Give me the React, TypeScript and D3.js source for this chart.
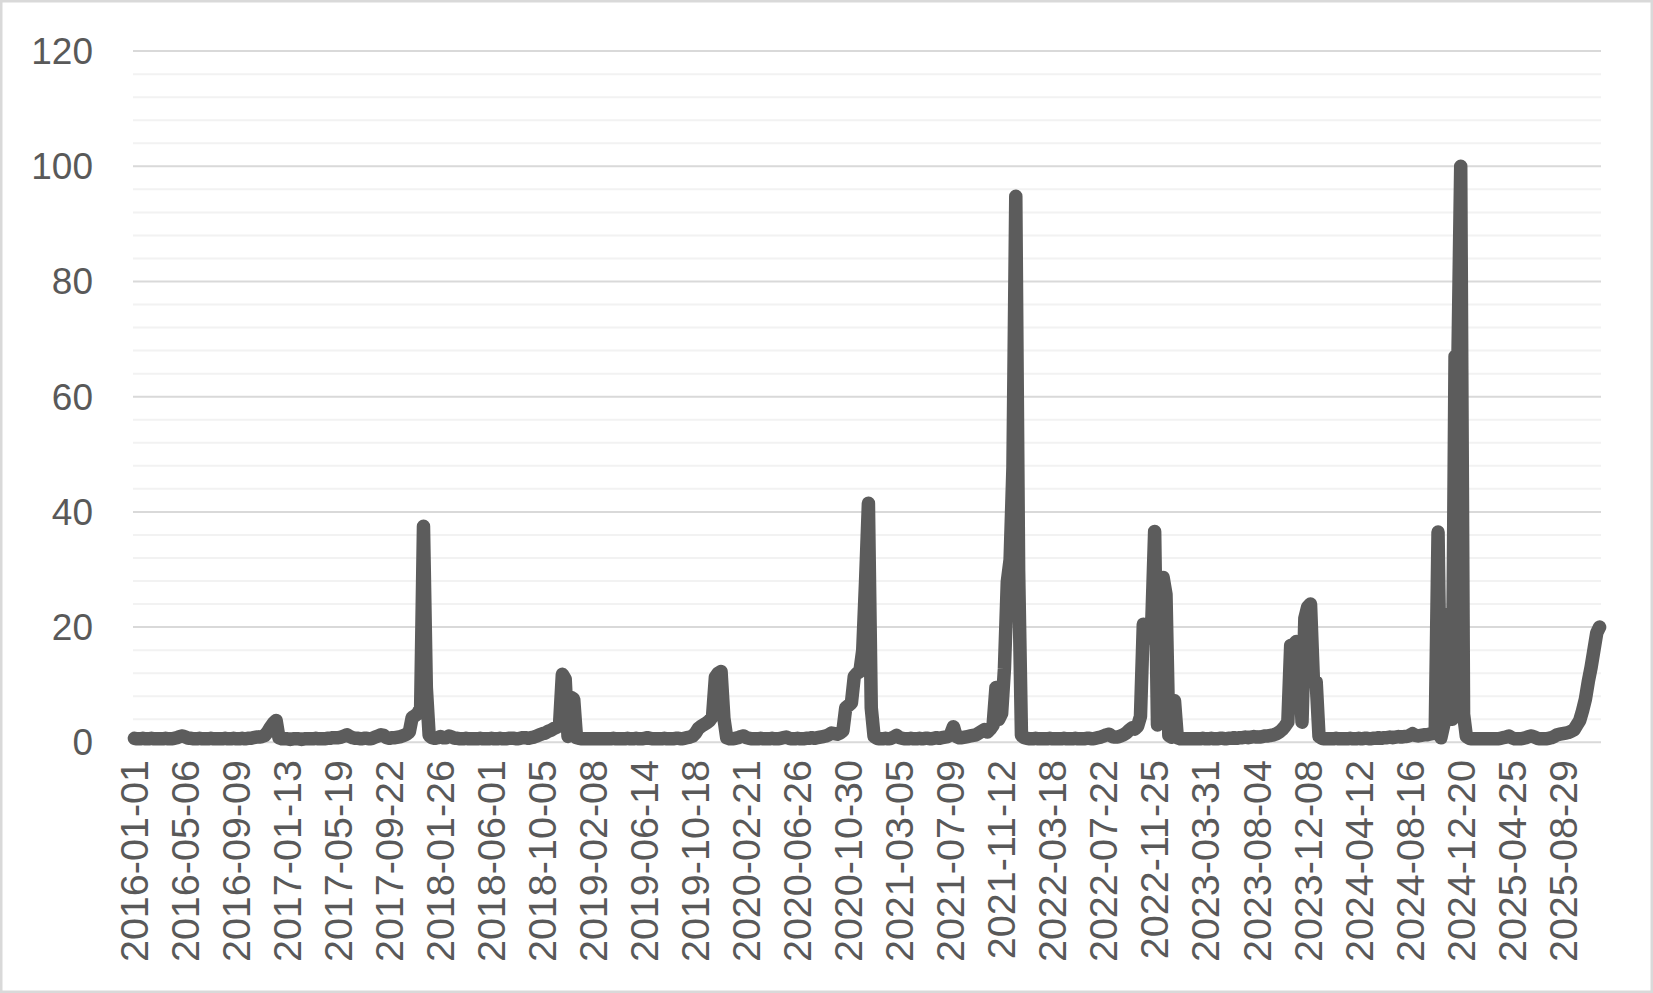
import React, { useEffect } from "react";
import * as d3 from "d3";

// Weekly index values, first week 2016-01-01, 518 weeks in total.
const values2016 = [
  0.7, 0.6, 0.6, 0.7, 0.6, 0.6, 0.7, 0.6, 0.6, 0.6,
  0.6, 0.7, 0.6, 0.6, 0.7, 0.8, 1.0, 1.1, 0.9, 0.7,
  0.7, 0.6, 0.6, 0.7, 0.6, 0.6, 0.6, 0.7, 0.6, 0.6,
  0.6, 0.6, 0.7, 0.6, 0.6, 0.7, 0.6, 0.6, 0.7, 0.6,
  0.7, 0.7, 0.8, 0.9, 0.9, 1.0, 1.2, 1.8, 2.6, 3.3,
  3.8, 0.8,
];
const values2017 = [
  0.6, 0.6, 0.6, 0.5, 0.6, 0.6, 0.6, 0.5, 0.6, 0.6,
  0.6, 0.6, 0.7, 0.6, 0.6, 0.6, 0.7, 0.7, 0.8, 0.8,
  0.8, 0.9, 1.1, 1.3, 1.0, 0.8, 0.7, 0.7, 0.6, 0.7,
  0.7, 0.6, 0.7, 0.9, 1.1, 1.3, 1.2, 0.8, 0.7, 0.8,
  0.8, 0.9, 1.0, 1.2, 1.4, 1.8, 4.3, 4.6, 5.0, 6.0,
  37.5, 9.5,
];
const values2018 = [
  1.2, 0.8, 0.7, 0.8, 1.0, 0.8, 0.8, 1.1, 0.9, 0.7,
  0.7, 0.6, 0.6, 0.7, 0.6, 0.6, 0.6, 0.6, 0.7, 0.6,
  0.6, 0.6, 0.7, 0.6, 0.6, 0.7, 0.6, 0.6, 0.7, 0.7,
  0.7, 0.6, 0.7, 0.8, 0.8, 0.7, 0.8, 0.9, 1.1, 1.3,
  1.5, 1.6, 1.9, 2.1, 2.4, 2.6, 3.0, 11.8, 11.0, 1.0,
  7.8, 7.5,
];
const values2019 = [
  0.8, 0.7, 0.6, 0.6, 0.6, 0.6, 0.6, 0.6, 0.6, 0.6,
  0.6, 0.6, 0.6, 0.7, 0.6, 0.6, 0.6, 0.6, 0.7, 0.6,
  0.6, 0.7, 0.6, 0.6, 0.7, 0.8, 0.7, 0.6, 0.6, 0.6,
  0.6, 0.7, 0.6, 0.6, 0.6, 0.7, 0.7, 0.6, 0.7, 0.8,
  0.9, 1.1, 1.6, 2.4, 2.8, 3.1, 3.4, 3.8, 4.5, 11.3,
  12.0, 12.3,
];
const values2020 = [
  4.2, 0.8, 0.6, 0.6, 0.7, 0.8, 1.0, 1.1, 0.8, 0.7,
  0.6, 0.6, 0.6, 0.7, 0.6, 0.6, 0.6, 0.7, 0.6, 0.6,
  0.7, 0.8, 0.9, 0.7, 0.6, 0.6, 0.7, 0.6, 0.6, 0.7,
  0.7, 0.8, 0.7, 0.8, 0.9, 1.0, 1.1, 1.3, 1.6, 1.5,
  1.4, 1.6, 2.0, 6.0, 6.4, 6.8, 11.4, 12.0, 12.3, 16.0,
  28.0, 41.5,
];
const values2021 = [
  6.0, 1.0, 0.7, 0.6, 0.6, 0.7, 0.6, 0.7, 0.9, 1.2,
  0.8, 0.7, 0.6, 0.6, 0.7, 0.6, 0.6, 0.7, 0.6, 0.7,
  0.7, 0.6, 0.7, 0.8, 0.7, 0.8, 0.9, 1.0, 1.4, 2.7,
  1.0, 0.8, 0.8, 0.9, 1.0, 1.1, 1.2, 1.3, 1.6, 1.9,
  2.2, 1.8, 2.3, 3.0, 9.5, 4.0, 5.0, 12.8, 27.8, 31.7,
  47.7, 94.8,
];
const values2022 = [
  29.8, 1.2, 0.8, 0.7, 0.6, 0.6, 0.7, 0.6, 0.6, 0.6,
  0.6, 0.7, 0.6, 0.6, 0.6, 0.6, 0.7, 0.6, 0.6, 0.6,
  0.7, 0.6, 0.6, 0.6, 0.7, 0.7, 0.6, 0.7, 0.8, 0.9,
  1.1, 1.3, 1.4, 1.0, 0.9, 0.9, 1.1, 1.3, 1.6, 2.1,
  2.5, 2.3, 2.8, 4.5, 20.5, 18.0, 20.0, 21.0, 36.6, 3.0,
  27.0, 28.6,
];
const values2023 = [
  25.7, 1.2, 0.9, 7.2, 0.8, 0.6, 0.6, 0.6, 0.6, 0.6,
  0.6, 0.6, 0.6, 0.7, 0.6, 0.6, 0.7, 0.6, 0.6, 0.7,
  0.7, 0.6, 0.7, 0.7, 0.8, 0.7, 0.8, 0.8, 0.9, 0.8,
  0.9, 1.0, 0.9, 0.9, 1.0, 1.1, 1.1, 1.2, 1.3, 1.5,
  1.8, 2.2, 2.8, 3.5, 16.8, 17.0, 17.5, 15.0, 3.5, 21.5,
  23.5, 24.0,
];
const values2024 = [
  11.0, 10.5, 1.0, 0.7, 0.6, 0.6, 0.6, 0.6, 0.7, 0.6,
  0.6, 0.6, 0.6, 0.7, 0.6, 0.6, 0.7, 0.6, 0.7, 0.7,
  0.6, 0.7, 0.7, 0.8, 0.7, 0.8, 0.8, 0.9, 0.8, 0.9,
  1.0, 0.9, 1.0, 1.0, 1.2, 1.5, 1.2, 1.1, 1.2, 1.3,
  1.3, 1.4, 1.5, 1.6, 36.5, 0.8, 3.0, 10.0, 22.3, 4.0,
  67.0, 66.0,
];
const values2025 = [
  100, 4.9, 1.0, 0.7, 0.6, 0.6, 0.6, 0.6, 0.6, 0.6,
  0.6, 0.6, 0.6, 0.6, 0.7, 0.8, 0.9, 1.1, 0.8, 0.6,
  0.6, 0.6, 0.7, 0.8, 1.0, 1.1, 0.9, 0.7, 0.6, 0.6,
  0.6, 0.7, 0.8, 1.0, 1.3, 1.4, 1.5, 1.6, 1.7, 1.9,
  2.2, 3.0, 3.8, 5.5, 7.5, 10.5, 13.0, 16.0, 19.0, 20.0,
];

const firstWeek = "2016-01-01";

const tickLabels = [
  "2016-01-01", "2016-05-06", "2016-09-09", "2017-01-13", "2017-05-19",
  "2017-09-22", "2018-01-26", "2018-06-01", "2018-10-05", "2019-02-08",
  "2019-06-14", "2019-10-18", "2020-02-21", "2020-06-26", "2020-10-30",
  "2021-03-05", "2021-07-09", "2021-11-12", "2022-03-18", "2022-07-22",
  "2022-11-25", "2023-03-31", "2023-08-04", "2023-12-08", "2024-04-12",
  "2024-08-16", "2024-12-20", "2025-04-25", "2025-08-29",
];

const yTicks = [0, 20, 40, 60, 80, 100, 120];

const W = 1653;
const H = 993;
const plot = { left: 133, right: 1601, top: 51.1, bottom: 742.3 };
const FONT = "'Liberation Sans', Arial, sans-serif";
const TEXT = "#595959";

export default function App() {
  useEffect(() => {
    document.body.style.margin = "0";
  }, []);

  const values = [
    ...values2016, ...values2017, ...values2018, ...values2019, ...values2020,
    ...values2021, ...values2022, ...values2023, ...values2024, ...values2025,
  ];
  const fmt = d3.utcFormat("%Y-%m-%d");
  const start = d3.utcParse("%Y-%m-%d")(firstWeek) as Date;
  const dates = values.map((_, i) => fmt(d3.utcDay.offset(start, 7 * i)));
  const data = dates.map((d, i) => ({ d, v: values[i] }));

  const x = d3.scaleBand<string>().domain(dates).range([plot.left, plot.right]).padding(0);
  const cx = (d: string) => (x(d) as number) + x.bandwidth() / 2;
  const y = d3.scaleLinear().domain([0, 120]).range([plot.bottom, plot.top]);

  const minor = d3.range(4, 121, 4).filter((v) => v % 20 !== 0);

  const line = d3
    .line<{ d: string; v: number }>()
    .x((p) => cx(p.d))
    .y((p) => y(p.v));

  return (
    <svg
      width={W}
      height={H}
      style={{ position: "absolute", left: 0, top: 0, display: "block" }}
    >
      <rect x={1.25} y={1.25} width={W - 2.5} height={H - 2.5} fill="#fff" stroke="#d9d9d9" strokeWidth={2.5} />
      {minor.map((v) => (
        <line key={"m" + v} x1={plot.left} x2={plot.right} y1={y(v)} y2={y(v)} stroke="#f2f2f2" strokeWidth={2} />
      ))}
      {yTicks.map((v) => (
        <line key={"g" + v} x1={plot.left} x2={plot.right} y1={y(v)} y2={y(v)} stroke="#d9d9d9" strokeWidth={2} />
      ))}
      {yTicks.map((v) => (
        <text
          key={"t" + v}
          x={93}
          y={y(v)}
          dy="0.35em"
          textAnchor="end"
          fontFamily={FONT}
          fontSize={37}
          fill={TEXT}
        >
          {v}
        </text>
      ))}
      <path
        d={line(data) || ""}
        fill="none"
        stroke="#5c5c5c"
        strokeWidth={13.5}
        strokeLinejoin="round"
        strokeLinecap="round"
      />
      {tickLabels.map((t) => (
        <text
          key={t}
          transform={`translate(${cx(t)},760) rotate(-90)`}
          dy="0.35em"
          textAnchor="end"
          fontFamily={FONT}
          fontSize={39.5}
          fill={TEXT}
        >
          {t}
        </text>
      ))}
    </svg>
  );
}
